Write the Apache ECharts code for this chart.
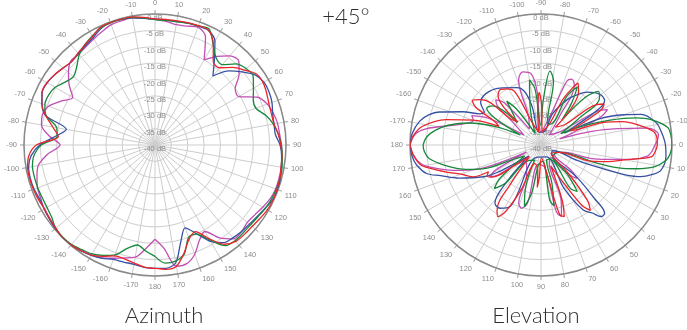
<!DOCTYPE html>
<html><head><meta charset="utf-8">
<script src="https://cdn.jsdelivr.net/npm/echarts@6/dist/echarts.min.js"></script>
<style>html,body{margin:0;padding:0;background:#fff}#c{width:687px;height:330px}</style>
</head><body><div id="c"></div>
<script>
// ---------- Azimuth (angle clockwise from top, degrees) ----------
const azAngles = [-180,-175,-170,-165,-160,-155,-150,-145,-140,-135,
 -130,-125,-120,-115,-110,-105,-100,-95,-90,-85,
 -80,-75,-70,-65,-60,-55,-50,-45,-40,-35,
 -30,-25,-20,-15,-10,-5,0,5,10,15,
 20,25,30,35,40,45,50,55,60,65,
 70,75,80,85,90,95,100,105,110,115,
 120,125,130,135,140,145,150,155,160,165,
 170,175];
const azBlue = [-2.3,-2.5,-3.0,-3.0,-2.8,-1.8,-1.1,-0.6,-0.2,0,
 -0.3,-0.7,-1.0,-1.1,-0.7,-0.6,-0.8,-2.0,-4.8,-9.5,
 -12.5,-5.5,-3.3,-2.0,-2.0,-2.6,-3.4,-4.0,-3.6,-3.0,
 -2.2,-0.8,-0.2,-0.3,-0.6,-1.2,-1.6,-1.7,-1.7,-1.5,
 -1.4,-1.4,-3.4,-8.4,-12.5,-8.0,-5.3,-2.7,-1.6,-1.6,
 -2.0,-2.8,-3.1,-3.1,-1.8,-1.2,-0.8,-0.4,-0.1,-0.4,
 -1.2,-1.9,-2.4,-2.6,-3.0,-3.6,-6.0,-10.2,-13.1,-9.5,
 -3.5,-2.2];
const azRed = [-2.3,-2.6,-3.4,-4.0,-4.0,-2.5,-1.2,-0.6,-0.1,0,
 -0.5,-0.8,-1.0,-0.7,-0.5,-0.4,-0.5,-1.3,-3.8,-10.4,
 -8.3,-5.5,-3.2,-1.9,-1.9,-2.6,-3.4,-4.0,-3.4,-2.7,
 -1.8,-0.4,-0.2,-0.2,-0.3,-0.9,-1.5,-1.5,-1.5,-1.3,
 -1.2,-1.3,-4.4,-9.0,-9.2,-6.5,-4.4,-2.2,-1.9,-2.4,
 -3.0,-3.2,-3.1,-2.2,-1.6,-1.1,-0.9,-0.5,-0.4,-0.2,
 -0.4,-0.9,-1.3,-1.4,-1.6,-3.0,-7.0,-10.8,-9.5,-5.8,
 -2.4,-1.9];
const azGreen = [-6.0,-7.5,-9.0,-7.3,-4.3,-2.8,-1.6,-1.0,-0.3,-0.2,
 -0.4,-1.5,-1.9,-2.0,-1.9,-1.9,-2.0,-2.9,-5.3,-10.0,
 -9.5,-5.6,-4.2,-4.1,-4.8,-6.5,-7.5,-6.2,-4.0,-2.6,
 -1.6,-0.6,-0.3,-0.3,-0.4,-1.0,-1.7,-1.8,-1.8,-1.5,
 -1.3,-0.9,-4.5,-7.5,-8.0,-5.0,-3.7,-3.4,-5.3,-6.9,
 -7.2,-5.0,-3.3,-2.2,-1.4,-1.0,-0.6,-0.5,-0.6,-0.8,
 -1.2,-1.7,-2.0,-2.0,-1.9,-2.5,-6.5,-10.0,-10.0,-5.5,
 -4.0,-3.8];
const azMagenta = [-11.2,-8.3,-5.2,-4.3,-3.2,-2.0,-1.2,-0.6,-0.3,0,
 -0.3,-0.6,-0.9,-1.5,-1.8,-2.7,-3.8,-7.0,-11.0,-7.5,
 -4.8,-4.4,-5.4,-8.3,-11.0,-8.0,-5.5,-3.7,-3.8,-3.3,
 -2.6,-1.8,-0.9,-0.7,-0.6,-1.1,-1.6,-2.1,-2.7,-2.4,
 -1.7,-3.5,-10.0,-7.0,-4.5,-3.8,-6.5,-10.1,-10.5,-5.5,
 -3.5,-2.6,-2.0,-1.8,-1.4,-1.1,-0.9,-0.8,-0.8,-1.2,
 -2.0,-2.8,-3.2,-2.6,-2.6,-5.3,-9.5,-7.9,-4.5,-2.5,
 -2.4,-8.3];

// ---------- Elevation ([angle, dB]; 0 = right, positive clockwise) ----------
const elBlue = [[-180,0],[-175,-0.5],[-169,-2.2],[-165,-4.5],[-162,-7.4],[-157,-14],[-153,-19],[-150,-20],
 [-145,-17.5],[-137,-17],[-126,-18.5],[-113,-21],[-107,-23],[-103,-28],[-99,-36],[-80,-36],[-70,-30],
 [-60,-24],[-54,-21],[-49,-18.6],[-41,-16.3],[-35,-16.3],[-32,-19],[-29,-28],[-27,-32],[-24,-20],
 [-20,-13],[-17,-8],[-11,-4.2],[-6,-3],[0,-2],[5,-1.7],[12,-2.6],[15,-5],[17.6,-8],[19.5,-13],[21,-20],
 [23,-28],[26,-36],[35,-36],[42,-25],[45,-17],[47,-11.5],[50,-11.5],[53,-14],[57,-16.3],[62,-25],
 [66,-36],[110,-36],[116.7,-19],[122.9,-17],[128.3,-17.3],[133,-25],[138,-35],[145,-30],[148,-24],
 [151,-20],[158,-13],[163,-8],[166,-4],[171,-1.5],[175,-0.5]];
const elRed = [[-180,0],[-176,-0.8],[-171,-3.4],[-165,-10],[-160,-17.8],[-156,-26],[-153,-24],[-150,-17],
 [-147,-15],[-143,-17],[-139,-28],[-135,-30],[-131,-20],[-126,-19],[-121,-20],[-116,-22],[-111,-33],
 [-100,-36],[-95,-28],[-92,-24],[-89,-28],[-85,-36],[-68,-33],[-64,-24],[-59,-18],[-55,-20],[-51,-33],
 [-40,-30],[-36,-19],[-33,-17],[-30,-19],[-26,-30],[-23,-28],[-20,-20],[-16,-14],[-12,-10],[-7,-5.5],
 [-3,-4.5],[0,-4.5],[3,-5],[6,-6],[8,-10],[10,-14],[14,-19],[18,-24],[22,-34],[40,-36],[46,-28],
 [50,-18],[53,-15],[56,-18],[60,-28],[65,-33],[69,-22],[72,-17],[75,-18],[78,-30],[88,-36],[93,-30],
 [95,-27],[97,-32],[108,-34],[114,-25],[118,-17],[121,-14.5],[124,-16],[128,-25],[135,-35],[142,-30],
 [147,-22],[150,-21],[153,-22],[155,-17],[160,-14],[164,-10],[168,-5.5],[171,-2.6],[176,-0.8]];
const elGreen = [[-180,-4],[-176,-5],[-172,-7.5],[-168,-11],[-163,-17],[-158,-25],[-154,-33],[-150,-24],
 [-146,-20],[-141,-21],[-137,-30],[-133,-28],[-128,-23],[-124,-27],[-117,-36],[-106,-28],[-100,-19.8],
 [-96,-23],[-91,-34],[-87,-26],[-83,-17.3],[-79,-20],[-74,-33],[-66,-33],[-62,-23],[-58,-19],[-54,-24],
 [-50,-30],[-47,-20],[-43,-16],[-39,-17],[-35,-26],[-30,-33],[-27,-30],[-24,-25],[-20,-18],[-16,-10],
 [-13,-5.5],[-8,-1],[-4,-0.2],[0,0],[4,-0.5],[7,-1.5],[11,-4.8],[14,-10],[16,-14],[18,-22],[21,-34],
 [44,-35],[48,-28],[52,-22],[56,-24],[60,-35],[70,-35],[74,-28],[78,-21],[81,-23],[84,-35],[97,-34],
 [101,-25],[105,-20.5],[109,-25],[113,-35],[128,-34],[133,-24],[137,-20.5],[141,-24],[146,-34],
 [153,-30],[157,-21.8],[162,-16],[167,-11],[173,-5.7],[177,-4.3]];
const elMagenta = [[-180,0],[-175,-1.5],[-172,-4.5],[-167,-13],[-163,-17],[-160,-18],[-157,-17],[-153,-22],
 [-150,-34],[-142,-30],[-138,-22],[-135,-20.5],[-131,-23],[-126,-34],[-113,-30],[-109,-19],[-104,-17],
 [-98,-18],[-94,-24],[-90,-36],[-72,-30],[-68,-19],[-65,-17.8],[-61,-19],[-57,-30],[-50,-36],[-35,-33],
 [-31,-20],[-28,-17],[-25,-20],[-21,-30],[-18,-34],[-15,-24],[-12,-16],[-9,-7],[-5,-4],[-2,-4.5],
 [0,-5.2],[3,-6],[6,-7.3],[9,-12],[12,-19],[15,-24],[18,-33],[35,-35],[40,-28],[43,-25],[47,-28],
 [52,-35],[65,-34],[70,-22],[74,-17.3],[77,-19],[80,-33],[98,-34],[103,-22],[107,-19.8],[111,-21],
 [116,-30],[140,-34],[145,-24],[148,-21.7],[151,-24],[154,-35],[157,-25],[160,-17.8],[164,-12],
 [168,-6.5],[171,-3],[175,-1]];

const COLORS = {blue:'#3651a3', red:'#e8262b', green:'#17883c', magenta:'#c24fb3'};
const GRID = '#cdcdcd', LABEL = '#8c8c8c';

function azSeries(vals, color) {
  const d = azAngles.map((a, i) => [vals[i], a]);
  d.push([vals[0], 180]);
  return {type:'line', coordinateSystem:'polar', polarIndex:0, data:d, showSymbol:false, symbol:'none',
    smooth:0.3, lineStyle:{color, width:1.3}, itemStyle:{color}, animation:false, silent:true};
}
function elSeries(pairs, color) {
  const d = pairs.map(p => [p[1], p[0]]);
  d.push([pairs[0][1], pairs[0][0] + 360]);
  return {type:'line', coordinateSystem:'polar', polarIndex:1, data:d, showSymbol:false, symbol:'none',
    smooth:0.35, lineStyle:{color, width:1.3}, itemStyle:{color}, animation:false, silent:true};
}
function angleAxis(idx, min, max) {
  return {polarIndex:idx, type:'value', min, max, interval:10, startAngle:90, clockwise:true,
    axisLine:{show:true, lineStyle:{color:'#8a8a8a', width:1.5}},
    axisTick:{show:true, length:4, lineStyle:{color:'#9a9a9a'}},
    axisLabel:{margin:7, fontSize:7.5, color:LABEL, fontFamily:'Liberation Sans',
      formatter: v => (v === max ? '' : String(v > 180 ? v - 360 : v))},
    splitLine:{show:true, lineStyle:{color:GRID, width:1}}};
}
function radiusAxis(idx) {
  return {polarIndex:idx, type:'value', min:-40, max:0, interval:5,
    axisLine:{show:false}, axisTick:{show:false},
    axisLabel:{formatter:'{value} dB', margin:0, align:'center', verticalAlign:'top',
      fontSize:7.5, color:LABEL, fontFamily:'Liberation Sans'},
    splitLine:{show:true, lineStyle:{color:GRID, width:1}}};
}

const TITLE_STYLE = {fontSize:22, fontWeight:300, color:'#2e2e2e', fontFamily:'Lato'};
const chart = echarts.init(document.getElementById('c'), null, {renderer:'canvas'});
chart.setOption({
  animation:false,
  backgroundColor:'#fff',
  title:[
    {text:'+45°', left:346, top:6, textAlign:'center', padding:0, textStyle:TITLE_STYLE},
    {text:'Azimuth', left:164, top:305, textAlign:'center', padding:0, textStyle:TITLE_STYLE},
    {text:'Elevation', left:536, top:305, textAlign:'center', padding:0, textStyle:TITLE_STYLE}
  ],
  polar:[{center:[155,145], radius:131}, {center:[541,145], radius:131}],
  angleAxis:[angleAxis(0, 0, 360), angleAxis(1, -90, 270)],
  radiusAxis:[radiusAxis(0), radiusAxis(1)],
  series:[
    azSeries(azMagenta, COLORS.magenta), azSeries(azBlue, COLORS.blue),
    azSeries(azGreen, COLORS.green), azSeries(azRed, COLORS.red),
    elSeries(elMagenta, COLORS.magenta), elSeries(elBlue, COLORS.blue),
    elSeries(elGreen, COLORS.green), elSeries(elRed, COLORS.red)
  ]
});
</script></body></html>
